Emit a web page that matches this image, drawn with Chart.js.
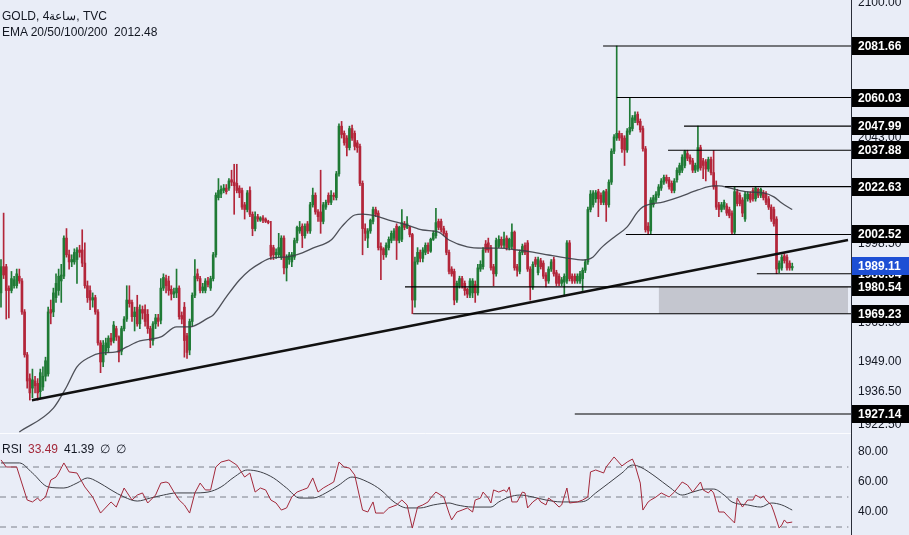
<!DOCTYPE html>
<html><head><meta charset="utf-8">
<script src="https://cdn.jsdelivr.net/npm/chart.js@4.4.1/dist/chart.umd.min.js"></script>
<style>
html,body{margin:0;padding:0;background:#e9edf7;}
#wrap{position:relative;width:909px;height:535px;overflow:hidden;background:#e9edf7;font-family:'Liberation Sans',Arial,sans-serif;}
canvas{position:absolute;left:0;}
#price{top:0;}
#rsi{top:433px;}
.lg{position:absolute;left:2px;font-size:12px;color:#131722;white-space:nowrap;line-height:16px;}
.lg span{margin-left:6px;}
</style></head><body>
<div id="wrap">
<canvas id="price" width="909" height="433"></canvas>
<canvas id="rsi" width="909" height="102"></canvas>
<div class="lg" style="top:8px">GOLD, 4ساعة, TVC</div>
<div class="lg" style="top:24px">EMA 20/50/100/200&nbsp;&nbsp;2012.48</div>
<div class="lg" style="top:441px">RSI<span style="color:#a3283a">33.49</span><span>41.39</span><span>∅</span><span>∅</span></div>
</div>
<script>
// ---- candle data (4h GOLD) ----
const open = [
1978,1989,1989,1980,1979,1981,1981,1985,1983,1970,
1952,1942,1938,1941,1940,1936.5,1938.5,1943,1944,1971,
1970,1976,1979,1983,1985,2001,1994,1991,1991,1992,
1996,1996,1990.5,1981,1979,1975,1976,1970,1957,1949,
1953.5,1955,1959,1958,1963,1959.5,1953.5,1963,1967,1975,
1974,1968,1972,1965,1971,1971,1969,1963,1958,1965,
1967.5,1966.5,1980,1984,1983,1979.5,1977.5,1978,1980,1968.5,
1972,1960,1954,1966,1977,1986,1984,1979,1979,1983,
1980,1984,1994,2018,2019.5,2021,2022,2022,2025.5,2024.5,
2024,2022,2021,2015,2013,2021,2011,2005,2010,2008.5,
2009.5,2009,2008,1998,1997,1994,1994,1993,2001,1988.5,
1992,1991,1993,2000,2004,2006,2002,2007,2004,2015,
2019,2012,2012,2008,2014,2019,2016,2019,2018,2028,
2048,2045,2043,2039,2047,2045,2041,2039.5,2024,2005,
2001,2004,2008,2013,2011.5,1997.5,1996.5,1994,1997,2000,
2001,2006,2000,2000.5,2007,2005.5,2005.5,2002.5,1975,1991,
1995,1992.5,1995,1998,1995.5,2000.5,2002,2008,2008,2005,
2003,1995,1988,1987,1975,1981,1984,1982,1979.5,1977,
1978,1981.5,1978,1988,1989,1998.5,1999,1997,1989,1986,
1997.5,2000.5,1998,2001,1997,1997.5,2003.5,1989,1987,1995,
1998,1999,1988,1980.5,1992,1986.5,1991.5,1990.5,1985.5,1983,
1988,1992,1986.5,1985,1982,1982.5,1983,1999,1985,1985,
1983,1983,1984,1987.5,1991,2013,2015,2017.5,2020.5,2019,
2016,2020.5,2015,2024.5,2037.5,2043,2045,2044,2043,2038,
2045.5,2047,2050.5,2053,2050,2047,2038.5,2006,2004,2015,
2017,2019,2022,2024.5,2026.5,2025.5,2024,2021,2025.5,2028.5,
2029.5,2031.5,2036.5,2035,2033.5,2029.5,2030,2039,2033.5,2033,
2030,2034,2028.5,2023,2015,2013,2014,2014.5,2013,2011.5,
2003.5,2020.5,2019,2017,2009,2017.5,2019.5,2021,2017.5,2021.5,
2019,2020,2019.5,2017.5,2014,2013,2009,1988,1988.5,1993.5,
1993,1990.5,1988.5];
const high = [
1992,2011.5,1990,1981,1987,1985,1988,1988,1984,1971,
1953,1944,1946,1943,1942,1946,1947,1951,1972,1975,
1980,1986,1988,1990,2002,2005,1996,1994,1996.5,1997,
1998,2004.5,1999,1983,1981,1978,1977,1971,1958,1958,
1959,1960,1961,1966,1964,1960,1964,1968,1981,1981,
1975,1972,1977,1973,1972.5,1973,1971,1964,1966,1969,
1969,1984,1986,1985.5,1985,1981,1980,1988,1981,1970,
1974,1961,1967,1978,1992,1988,1985,1982,1984,1984.5,
1985,1995,2020,2026,2023,2023.5,2023.5,2026,2029.5,2032,
2032,2023,2022,2016,2021,2022.5,2012,2012,2011,2010,
2010.5,2009.5,2008.5,2008,1998,1996.5,2003,2002,2002,1994,
1995,1995,2001,2006,2008,2007,2007,2008,2016,2022,
2020,2013,2029.5,2016,2017,2020,2021,2020,2029,2049,
2050,2046,2044,2048,2048.5,2046,2042,2040.5,2025,2007,
2005,2009,2014,2014,2012.5,1999,1997,1999,2001.5,2004,
2005,2007,2006,2013,2008,2010,2006,2003,1993,1997,
1996,1997,1999,1999,2001,2004,2013.5,2009,2009,2006,
2004,1996,1989,1988,1983,1985,1985,1983,1980,1984,
1984,1983,1990,1991.5,1997,2000,2001,1998,1990,2001,
2002,2001.5,2003.5,2002,2001,2007,2004,1990,1996,1998.5,
1999,2000,1989,1991,1993,1993,1992.5,1991.5,1986.5,1989,
1992,1993,1987.5,1986,1984.5,1986,2000,2000,1986,1986,
1986,1987,1988.5,1992,2014,2021,2021,2021,2021.5,2020,
2021,2021.5,2025.5,2038.5,2044.5,2081.66,2046,2045,2044,2047,
2060.03,2052.5,2054,2054,2051,2048,2039.5,2007.5,2018,2019,
2020.5,2023.5,2026,2027.5,2027.5,2026.5,2025,2026,2030.5,2032.5,
2036,2037.88,2037.88,2036,2034.5,2032.5,2047.99,2040,2034.5,2034,
2035,2035,2037.8,2025,2016,2016,2017,2015.5,2014,2012.5,
2022.63,2021.5,2020,2018,2020.5,2020.5,2020.5,2022,2022.63,2022,
2022,2021,2020.5,2018.5,2015,2014,2010,1991.5,1994,1994.5,
1994,1991.5,1990.5];
const low = [
1972,1984,1967,1967.5,1978,1980,1980,1982,1969,1951,
1938,1933,1934,1936,1933,1934,1937,1941,1943,1965,
1968,1974,1977,1974,1984,1993,1988,1989,1990,1982,
1993,1989,1980,1974,1971,1972,1969,1956,1944.5,1947,
1952,1953,1956,1957,1958,1949,1952,1962,1966,1972,
1966,1962,1964,1963,1967,1964,1961,1955,1956,1963,
1964,1965,1979,1978,1977,1975,1976,1976,1967,1965,
1951,1950.5,1952,1964,1976,1983,1978,1978,1978,1980.5,
1979,1983,1993,2017,2018,2020,2019.5,2021,2023,2011,
2020,2018,2013,2009,2012,2010,2002,2004,2008,2008,
2007.5,2007.5,2007,1992,1992,1992.5,1993,1992,1986,1983,
1990,1989,1992,1999,2003,1997,2001,2003,2003,2014,
2011,2008,2003,2007,2013,2015,2015,2017,2017,2027,
2043,2040,2035.5,2038,2042,2038,2037,2023,1994,2000,
1997,2003,2007,2010,1996,1983.5,1992,1993,1996,1999,
2000,1992,1999,1999.5,2004.5,2005,2001.5,1969.23,1972,1990,
1991,1991,1994,1994.5,1995,2000,2001,2004.5,2003.5,2002,
1994,1986,1985,1973,1974,1980,1980,1977,1976,1976,
1976,1974,1977,1987,1988,1995,1995,1987.5,1981,1985,
1997,1997,1997,1996,1996,1996.5,1987.5,1985,1986,1994,
1994,1987,1975,1979.5,1989,1985.5,1988,1984,1980.5,1982,
1987,1985,1981,1981,1981,1977,1982,1983,1982,1982,
1982,1982,1979,1986.5,1990,2012,2014,2016,2010,2015,
2015,2008,2014,2023.5,2036.5,2042,2042,2037,2031.5,2037,
2044.5,2046,2049.5,2048.5,2045.5,2037.5,2003.5,2002.52,2002.7,2014,
2016,2018,2021,2023.5,2024,2021.5,2020,2020,2024.5,2027.5,
2028.5,2030.5,2033.5,2032,2028.5,2028.5,2029,2029.5,2026,2025,
2029,2027.5,2021.5,2013,2010,2012,2013,2010.5,2009.5,2002.5,
2002.7,2014.5,2014.5,2010,2008,2016.5,2016,2016.5,2016.5,2018,
2018,2017,2015,2013,2008,2006,1986.04,1986.5,1987.5,1990.5,
1987.5,1987.5,1987.5];
const close = [
1989,1985.5,1979,1979,1984,1983.5,1986,1983,1970,1952,
1941,1936,1941.5,1939,1936,1944.5,1943,1949.5,1970,1969.5,
1978,1982,1985,1985.5,2001,1994,1991,1992,1995,1996,
1995,1990.5,1981,1976,1975,1976,1970,1957,1949,1956,
1957,1959,1957.5,1964.5,1959.5,1953,1963,1967,1975,1973.5,
1968,1970,1965,1971,1969.5,1966,1963,1958,1965,1967.5,
1966,1980,1984.5,1981,1979,1977.5,1978.5,1980,1968,1967,
1958,1953,1966,1977,1985,1984,1979,1980.5,1983,1981.5,
1984,1994,2019,2021,2021.5,2022,2020.5,2025,2024.5,2023,
2021,2020,2014,2013,2020,2011,2005,2010,2009,2009.5,
2008.5,2008,2007.5,1993.5,1994,1995,1997,2001,1988.5,1993,
1994,1994,2000,2005.5,2005.5,2002,2006,2004,2015,2019,
2012,2010,2008,2015,2016,2016,2019,2018.5,2028,2048,
2044.5,2041,2039,2047,2043,2039.5,2039,2024,2005,2003,
2004,2008.5,2013,2011,1997,1996,1994,1998,2000.5,2003,
2004,2000,2005.5,2007.5,2005.5,2007,2002.5,1975,1991,1995,
1992.5,1996,1998,1995.5,2000.5,2003,2007.5,2005.5,2004.5,2003,
1995,1987,1986,1975,1982,1984,1981,1979,1977.5,1983,
1983,1978,1988.5,1990,1996,1996,1996,1988.5,1986,2000,
2000.5,1998,2000.5,1997,2000.5,2003.5,1988.5,1987.5,1995,1997.5,
1995,1988,1980.5,1990,1990,1992,1989,1985,1983,1988,
1991,1986,1982,1982,1983.5,1985,1999,1984,1983,1983,
1985,1986,1987.5,1991,2013,2019.5,2020,2020,2017.5,2016,
2020.5,2015,2024.5,2037.5,2043.5,2045,2043,2038.5,2038,2046,
2047.5,2051.5,2052.5,2049.5,2046.5,2038.5,2004.5,2004,2017,2018,
2019.5,2022.5,2025,2026.5,2025,2022.5,2021,2025,2029.5,2031.5,
2035,2037.5,2034.5,2033,2029.5,2031.5,2039,2030.5,2031.5,2030,
2034,2028.5,2022.5,2014,2013,2015,2016,2011.5,2010.5,2003.5,
2020.5,2015.5,2015.5,2011.5,2019.5,2019.5,2017,2017.5,2022,2019,
2021.5,2018,2016,2014,2009,2007,1988,1990.5,1993,1991.5,
1988.5,1988.5,1989.11];

// ---- EMA line ----
const emaIdx = [7,20,25,29,34,38,44,48,53,61,67,72,79,81,86,91,95,99,103,109,115,119,126,130,135,138,143,148,155,161,167,171,178,184,190,197,203,209,216,222,226,229,234,239,243,245,253,259,266,272,274,278,285,291,295,298,302];
const emaVal = [1919.6,1929.6,1938.5,1946.9,1951.1,1952.7,1953.2,1955.3,1957.8,1959.5,1963.7,1963.7,1967.4,1968.7,1976.3,1983.4,1987.6,1990.5,1992.6,1993.1,1994.8,1996.8,2000.2,2005.7,2010.7,2011.1,2010.3,2008.6,2006.5,2004.4,2003.5,2000.2,1997.3,1996.8,1996.8,1996,1995.1,1993.9,1992.6,1991.8,1993.1,1996.8,2001.4,2005.7,2012,2014.1,2016.2,2018.3,2021.2,2022.9,2022.9,2022.1,2020.4,2020,2018.3,2015.7,2013];

// ---- RSI ----
const rsiIdx = [0,2,6,10,12,14,15,17,19,21,22,24,26,29,32,35,38,42,44,47,48,50,52,54,56,59,61,63,64,66,68,70,72,74,76,78,80,82,84,87,90,93,95,97,99,101,103,105,107,109,111,113,115,117,119,121,123,125,127,129,131,133,135,138,140,142,143,146,148,151,153,155,157,159,161,163,164,166,169,171,172,174,176,178,180,181,183,184,186,187,188,190,192,193,194,195,197,199,200,201,203,205,206,208,209,211,213,214,216,217,220,222,224,225,227,229,230,231,234,235,237,239,241,242,244,245,247,248,250,252,255,257,260,262,264,267,268,270,271,272,274,276,277,280,281,283,285,287,288,290,291,292,294,295,297,298,299,300,302];
const rsiVal = [74.7,70,70,48,46.7,49.3,47.3,50,61.3,63.3,66,72.7,66.7,66,56.7,50,39.3,46.7,43.3,56,53.3,48,51.3,52.7,46,51.3,59.3,60,59.3,53.3,48,44.7,39.3,52.7,59.3,54.7,54.7,70,73.3,74.7,71.3,63.3,66,53.3,56,54.7,48,46,41.3,42.7,50,53.3,54.7,56,62.7,53.3,56,58,60,73.3,70,69.3,64.7,41.3,40,46.7,39.3,39.3,42.7,44.7,48,44.7,29.3,43.3,44.7,46.7,49.3,53.3,50,39.3,34.7,40,41.3,42.7,40,48,49.3,53.3,49.3,46,54.7,53.3,54.7,53.3,56.7,46.7,46.7,53.3,52.7,42.7,46.7,49.3,46.7,44.7,49.3,46.7,43.3,44.7,56,46,46.7,48,50,66.7,68,66.7,66,70,76.7,74.7,70.7,73.3,75.3,71.3,59.3,41.3,46.7,48,50,52.7,50,53.3,60,58,53.3,60,54.7,52.7,54.7,52.7,40,40,38,32.7,49.3,43.3,48,48,51.3,49.3,50.7,48,44.7,40,29.3,31.3,34.7,32.7,33.3];
const rsiMaIdx = [0,7,12,18,24,29,33,37,42,47,52,57,62,67,73,79,84,89,94,99,104,109,114,119,124,129,134,140,145,150,155,160,165,171,174,180,187,190,194,198,203,208,214,220,223,227,232,237,241,244,250,255,260,264,269,272,276,279,285,290,294,298,302];
const rsiMaVal = [72.7,72.7,66,56.7,56,59.3,62.7,60,54.7,50,47.3,49.3,51.3,52.7,52.7,53.3,56.7,63.3,68,66.7,62.7,56,49.3,49.3,52.7,58,63.3,60,54.7,46.7,42.7,42.7,44.7,46,44.7,43.3,43.3,46.7,50,51.3,50,48,46.7,46.7,47.3,52.7,59.3,66,71.3,70,63.3,56.7,51.3,53.3,55.3,55.3,51.3,46.7,44.7,43.3,46,44.7,41.3];

// ---- drawings ----
const levelPrices = [2081.66,2060.03,2047.99,2037.88,2022.63,2002.52,1986.04,1980.54,1969.23,1927.14];
const levelStart  = [229.8,235,260.7,254.6,276.3,238.5,288.5,154.2,157.3,219];
const trendIdx = [11.8, 323.3];
const trendVal = [1932.9, 2000.2];
const zoneStart = 251.1, zoneTop = 1980.54, zoneBottom = 1969.23;
const lastPrice = 1989.11;
const priceTicks = [2100, 2043, 2020.5, 1998.5, 1965.5, 1949, 1936.5, 1922.5];
const rsiTicks = [80, 60, 40];
const rsiBands = [70, 50, 30];

// ---- layout constants ----
const X_MIN = -0.38, X_MAX = 324.43;
const UP = '#1f7a35', DOWN = '#b3263a';
const FONT = "'Liberation Sans', Arial, sans-serif";
const AXIS_W = 58;

const N = Math.min(open.length, high.length, low.length, close.length);
const idx = Array.from({length: N}, (_, i) => i);
const col = idx.map(i => close[i] >= open[i] ? UP : DOWN);

const xScale = {type: 'linear', min: X_MIN, max: X_MAX, display: false, offset: false};
function yAxis(min, max, ticks, fmt) {
  return {
    position: 'right', min, max,
    afterBuildTicks: s => { s.ticks = ticks.map(v => ({value: v})); },
    afterFit: s => { s.width = AXIS_W; s.paddingTop = 0; s.paddingBottom = 0; },
    grid: {display: false, drawTicks: false},
    border: {display: true, color: '#2a2e39', width: 1},
    ticks: {padding: 7, color: '#131722', autoSkip: false, font: {family: FONT, size: 12}, callback: fmt}
  };
}

const zonePlugin = {
  id: 'zone',
  beforeDatasetsDraw(chart) {
    const {ctx, scales: {x, y}, chartArea} = chart;
    const x0 = x.getPixelForValue(zoneStart);
    const y0 = y.getPixelForValue(zoneTop), y1 = y.getPixelForValue(zoneBottom);
    ctx.save();
    ctx.fillStyle = '#c4c6cf';
    ctx.fillRect(x0, y0, chartArea.right - 3 - x0, y1 - y0);
    ctx.restore();
  }
};
const boxPlugin = {
  id: 'boxes',
  afterDraw(chart) {
    const {ctx, scales: {y}, chartArea} = chart;
    const left = chartArea.right + 1, w = chart.width - left;
    ctx.save();
    ctx.font = 'bold 12px ' + FONT;
    ctx.textBaseline = 'middle';
    const draw = (v, bg) => {
      const py = Math.round(y.getPixelForValue(v));
      ctx.fillStyle = bg; ctx.fillRect(left, py - 9, w, 18);
      ctx.fillStyle = '#ffffff'; ctx.fillText(v.toFixed(2), left + 6, py + 1);
    };
    levelPrices.forEach(v => draw(v, '#000000'));
    draw(lastPrice, '#1d4fd4');
    ctx.restore();
  }
};

const priceDatasets = [];
levelPrices.forEach((p, k) => priceDatasets.push({
  type: 'line', order: 0, data: [{x: levelStart[k], y: p}, {x: X_MAX, y: p}],
  borderColor: '#000', borderWidth: 1.2, pointRadius: 0
}));
priceDatasets.push({
  type: 'line', order: 1, data: trendIdx.map((x, k) => ({x, y: trendVal[k]})),
  borderColor: '#111', borderWidth: 2.5, pointRadius: 0
});
priceDatasets.push({
  type: 'line', order: 2, data: emaIdx.map((x, k) => ({x, y: emaVal[k]})),
  borderColor: 'rgba(60,62,70,0.9)', borderWidth: 1.3, pointRadius: 0, cubicInterpolationMode: 'monotone'
});
priceDatasets.push({
  type: 'bar', order: 3, grouped: false, barThickness: 2, minBarLength: 1, borderWidth: 0,
  data: idx.map(i => ({x: i, y: [Math.min(open[i], close[i]), Math.max(open[i], close[i])]})),
  backgroundColor: col
});
priceDatasets.push({
  type: 'bar', order: 4, grouped: false, barThickness: 1, borderWidth: 0,
  data: idx.map(i => ({x: i, y: [low[i], high[i]]})),
  backgroundColor: col
});

new Chart(document.getElementById('price'), {
  type: 'bar',
  data: {datasets: priceDatasets},
  options: {
    responsive: false, animation: false, devicePixelRatio: 1, events: [],
    layout: {padding: 0},
    plugins: {legend: {display: false}, tooltip: {enabled: false}},
    scales: {x: xScale, y: yAxis(1919.165, 2100.975, priceTicks, v => Number(v).toFixed(2))}
  },
  plugins: [zonePlugin, boxPlugin]
});

const sepPlugin = {
  id: 'sep',
  afterDraw(chart) {
    const {ctx} = chart;
    ctx.save(); ctx.strokeStyle = '#fbfcff'; ctx.lineWidth = 1;
    ctx.beginPath(); ctx.moveTo(0, 0.5); ctx.lineTo(chart.chartArea.right, 0.5); ctx.stroke();
    ctx.restore();
  }
};

const rsiDatasets = [];
rsiDatasets.push({
  type: 'line', data: rsiIdx.map((x, k) => ({x, y: rsiVal[k]})),
  borderColor: '#a3283a', borderWidth: 1, pointRadius: 0, tension: 0
});
rsiDatasets.push({
  type: 'line', data: rsiMaIdx.map((x, k) => ({x, y: rsiMaVal[k]})),
  borderColor: '#3d3f46', borderWidth: 1, pointRadius: 0, cubicInterpolationMode: 'monotone'
});
rsiBands.forEach(b => rsiDatasets.push({
  type: 'line', data: [{x: X_MIN, y: b}, {x: X_MAX - 1, y: b}],
  borderColor: '#7d808a', borderWidth: 1, borderDash: [6, 5], pointRadius: 0
}));

new Chart(document.getElementById('rsi'), {
  type: 'line',
  data: {datasets: rsiDatasets},
  options: {
    responsive: false, animation: false, devicePixelRatio: 1, events: [],
    layout: {padding: 0},
    plugins: {legend: {display: false}, tooltip: {enabled: false}},
    scales: {x: xScale, y: yAxis(24.667, 92.667, rsiTicks, v => Number(v).toFixed(2))}
  },
  plugins: [sepPlugin]
});
</script>
</body></html>
